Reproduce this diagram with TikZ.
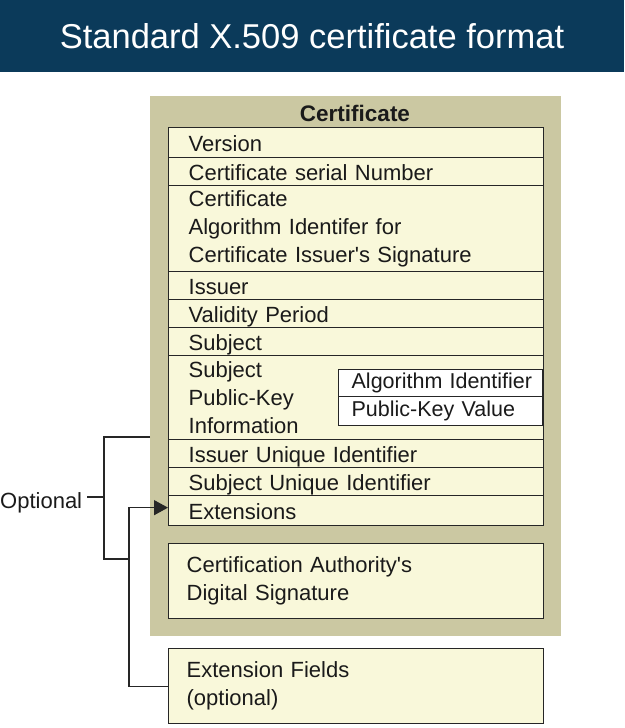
\documentclass[tikz,border=0pt]{standalone}
\usepackage{fontspec}
\setmainfont{Liberation Sans}
\usetikzlibrary{arrows.meta}

\definecolor{titleblue}{HTML}{0B3A5A}
\definecolor{panelkhaki}{HTML}{CBC8A2}
\definecolor{rowcream}{HTML}{F9F8DA}
\definecolor{edgegray}{HTML}{262626}
\definecolor{inkgray}{HTML}{1A1A1A}

\tikzset{
  field/.style={draw=edgegray, fill=rowcream, line width=1.3pt, anchor=north west,
    minimum width=375pt, text width=335pt, inner xsep=20pt, inner ysep=0pt,
    align=left, text=inkgray, font=\fontsize{22}{28}\selectfont},
  oneline/.style={field, text height=17pt, text depth=0pt},
  bigfield/.style={field, text width=339pt, inner xsep=18pt},
  subfield/.style={field, fill=white, minimum width=204pt, text width=186pt, inner xsep=9pt,
    font=\fontsize{21.5}{26}\selectfont},
  link/.style={draw=edgegray, line width=1.3pt}
}

\begin{document}
\begin{tikzpicture}[x=1pt,y=-1pt]
\useasboundingbox (0,0) rectangle (624,728);

% title bar
\fill[titleblue] (0,0) rectangle (624,72);
\node[text=white, font=\fontsize{34.5}{40}\selectfont] (title) at (312,36) {Standard X.509 certificate format};

% certificate panel
\node[fill=panelkhaki, anchor=north west, minimum width=411pt, minimum height=540pt, inner sep=0pt] (panel) at (150,96) {};
\node[text=inkgray, font=\bfseries\fontsize{22.5}{26}\selectfont] (head) at (355,113) {Certificate};

% fields
\node[oneline, minimum height=30pt] (ver) at (168,127) {Version};
\node[oneline, minimum height=28pt] (ser) at (168,157) {Certificate serial Number};
\node[field, minimum height=86pt] (alg) at (168,185) {Certificate\\Algorithm Identifer for\\Certificate Issuer\textquotesingle s Signature};
\node[oneline, minimum height=28pt] (iss) at (168,271) {Issuer};
\node[oneline, minimum height=28pt] (val) at (168,299) {Validity Period};
\node[oneline, minimum height=28pt] (sub) at (168,327) {Subject};
\node[field, minimum height=84pt] (pki) at (168,355) {Subject\\Public-Key\\Information};
\node[subfield, minimum height=27pt] (algid) at (338,369) {\hspace*{4pt}Algorithm Identifier};
\node[subfield, minimum height=29pt] (pkval) at (338,396) {\hspace*{4pt}Public-Key Value};
\node[oneline, minimum height=28pt] (isu) at (168,439) {Issuer Unique Identifier};
\node[oneline, minimum height=28pt] (suu) at (168,467) {Subject Unique Identifier};
\node[oneline, minimum height=30pt] (ext) at (168,495) {Extensions};

\node[bigfield, minimum height=75pt] (dsig) at (168,543) {Certification Authority\textquotesingle s\\Digital Signature};
\node[bigfield, minimum height=75pt] (extf) at (168,648) {Extension Fields\\(optional)};

% optional bracket
\node[anchor=west, inner sep=0pt, text=inkgray, font=\fontsize{22}{26}\selectfont] (opt) at (0,503) {Optional};
\coordinate (brtop) at (104,437);
\coordinate (brbot) at (104,559);
\coordinate (jn) at (129,559);
\coordinate (optdash) at ([xshift=5pt,yshift=6pt]opt.east);
\draw[link] (panel.west |- brtop) -- (brtop) -- (brbot) -- (jn);
\draw[link] (optdash) -- (optdash -| brtop);
\draw[link, -{Triangle[length=14pt,width=15pt]}] (extf.west) -| (jn) |- ([yshift=3pt]ext.west);
\end{tikzpicture}
\end{document}
